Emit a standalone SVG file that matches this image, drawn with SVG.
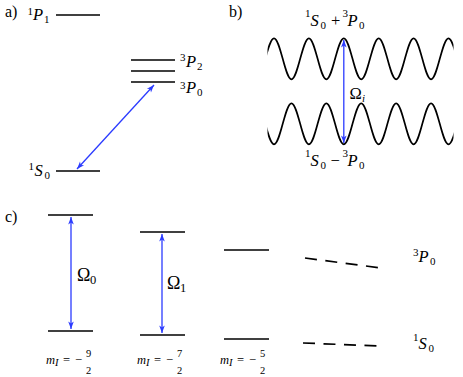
<svg xmlns="http://www.w3.org/2000/svg" width="463" height="377" viewBox="0 0 463 377" font-family="'Liberation Serif', 'Times New Roman', serif">
<style>
text{font-family:'Liberation Serif','Times New Roman',serif;fill:#000}
.m{font-size:16.5px}
.it{font-style:italic}
.s{font-size:11px}
.om{font-size:18px}
.os{font-size:12.5px}
.ml{font-size:12.5px}
.fr{font-size:10.5px}
.pl{font-size:16px}
.lvl{stroke:#000;stroke-width:1.7;fill:none}
.wave{stroke:#000;stroke-width:1.7;fill:none}
.arr{stroke:#2b3bff;stroke-width:1.3;fill:none;marker-start:url(#ah);marker-end:url(#ah)}
.dash{stroke:#000;stroke-width:1.7;fill:none;stroke-dasharray:12 8.5}
</style>
<defs>
<marker id="ah" viewBox="-8 -4 9 8" refX="0" refY="0" markerWidth="9" markerHeight="8" markerUnits="userSpaceOnUse" orient="auto-start-reverse">
<path d="M0,0 L-7.5,-2.8 L-5.5,0 L-7.5,2.8 Z" fill="#2b3bff"/>
</marker>
<clipPath id="wc"><rect x="267.5" y="20" width="186" height="140"/></clipPath>
</defs>

<!-- panel labels -->
<text class="pl" x="5" y="17">a)</text>
<text class="pl" x="229" y="17">b)</text>
<text class="pl" x="5" y="222">c)</text>

<!-- panel a -->
<g id="a-1P1">
<line class="lvl" x1="56" y1="15" x2="100" y2="15"/>
<text class="s" x="27.5" y="14.5">1</text><text class="m it" x="33" y="20">P</text><text class="s" x="44" y="23">1</text>
</g>
<g id="a-3P2">
<line class="lvl" x1="131" y1="60" x2="175" y2="60"/>
<text class="s" x="180" y="61">3</text><text class="m it" x="186" y="66.5">P</text><text class="s" x="197" y="70">2</text>
</g>
<g id="a-3P1">
<line class="lvl" x1="131" y1="71" x2="175" y2="71"/>
</g>
<g id="a-3P0">
<line class="lvl" x1="131" y1="82" x2="175" y2="82"/>
<text class="s" x="180" y="89">3</text><text class="m it" x="186" y="92.5">P</text><text class="s" x="197" y="96">0</text>
</g>
<g id="a-1S0">
<line class="lvl" x1="56" y1="171" x2="100" y2="171"/>
<text class="s" x="28.5" y="169.5">1</text><text class="m it" x="34.5" y="176">S</text><text class="s" x="44.5" y="179">0</text>
</g>

<!-- panel b -->
<g id="b-upper">
<path class="wave" clip-path="url(#wc)" d="M256.55,79.3 c6.34,0 11.11,-41 17.45,-41 s11.11,41 17.45,41 s11.11,-41 17.45,-41 s11.11,41 17.45,41 s11.11,-41 17.45,-41 s11.11,41 17.45,41 s11.11,-41 17.45,-41 s11.11,41 17.45,41 s11.11,-41 17.45,-41 s11.11,41 17.45,41 s11.11,-41 17.45,-41 s11.11,41 17.45,41"/>
<text class="s" x="305" y="16.5">1</text><text class="m it" x="310.5" y="25.7">S</text><text class="s" x="320.5" y="28.5">0</text>
<text class="m" x="331" y="25.7">+</text>
<text class="s" x="342.5" y="16.5">3</text><text class="m it" x="347.5" y="25.7">P</text><text class="s" x="359" y="28.5">0</text>
</g>
<g id="b-lower">
<path class="wave" clip-path="url(#wc)" d="M256.55,103.3 c6.34,0 11.11,41 17.45,41 s11.11,-41 17.45,-41 s11.11,41 17.45,41 s11.11,-41 17.45,-41 s11.11,41 17.45,41 s11.11,-41 17.45,-41 s11.11,41 17.45,41 s11.11,-41 17.45,-41 s11.11,41 17.45,41 s11.11,-41 17.45,-41 s11.11,41 17.45,41 s11.11,-41 17.45,-41"/>
<text class="s" x="305" y="156.5">1</text><text class="m it" x="310.5" y="165.7">S</text><text class="s" x="320.5" y="168.5">0</text>
<text class="m" x="330.5" y="165.7">−</text>
<text class="s" x="342.5" y="156.5">3</text><text class="m it" x="347.5" y="165.7">P</text><text class="s" x="359" y="168.5">0</text>
</g>

<!-- panel c -->
<g id="c-col1">
<line class="lvl" x1="48" y1="215" x2="93" y2="215"/>
<line class="lvl" x1="48" y1="331" x2="93" y2="331"/>
<text class="ml it" x="46" y="364">m</text><text class="fr it" x="55" y="366">I</text>
<text class="ml" x="63" y="364">=</text><text class="ml" x="75" y="364">−</text>
<text class="fr" x="86" y="357">9</text><text class="fr" x="86" y="374">2</text>
</g>
<g id="c-col2">
<line class="lvl" x1="140" y1="232" x2="185" y2="232"/>
<line class="lvl" x1="140" y1="335" x2="185" y2="335"/>
<text class="ml it" x="137" y="364">m</text><text class="fr it" x="146" y="366">I</text>
<text class="ml" x="154" y="364">=</text><text class="ml" x="166" y="364">−</text>
<text class="fr" x="177" y="357">7</text><text class="fr" x="177" y="374">2</text>
</g>
<g id="c-col3">
<line class="lvl" x1="224" y1="250" x2="269" y2="250"/>
<line class="lvl" x1="224" y1="339" x2="269" y2="339"/>
<text class="ml it" x="220" y="364">m</text><text class="fr it" x="229" y="366">I</text>
<text class="ml" x="237" y="364">=</text><text class="ml" x="249" y="364">−</text>
<text class="fr" x="260" y="357">5</text><text class="fr" x="260" y="374">2</text>
</g>
<g id="c-3P0">
<text class="s" x="413" y="256">3</text><text class="m it" x="418.5" y="262">P</text><text class="s" x="430" y="265">0</text>
</g>
<g id="c-1S0">
<text class="s" x="413" y="341">1</text><text class="m it" x="418.5" y="349">S</text><text class="s" x="428.5" y="352">0</text>
</g>

<!-- connectors -->
<g id="connectors">
<line class="arr" x1="154" y1="85" x2="77" y2="169"/>
<line class="arr" x1="343.8" y1="40" x2="343.8" y2="143"/>
<line class="arr" x1="71" y1="217" x2="71" y2="329"/>
<line class="arr" x1="162" y1="234" x2="162" y2="333"/>
<line class="dash" x1="305" y1="258" x2="381" y2="268"/>
<line class="dash" x1="303" y1="343" x2="381" y2="346"/>
<text class="m" x="349.5" y="99">Ω</text><text class="s it" x="362" y="101.5">i</text>
<text class="om" x="77" y="280.5">Ω</text><text class="os" x="90" y="283.5">0</text>
<text class="om" x="167" y="288.5">Ω</text><text class="os" x="180" y="291.5">1</text>
</g>
</svg>
